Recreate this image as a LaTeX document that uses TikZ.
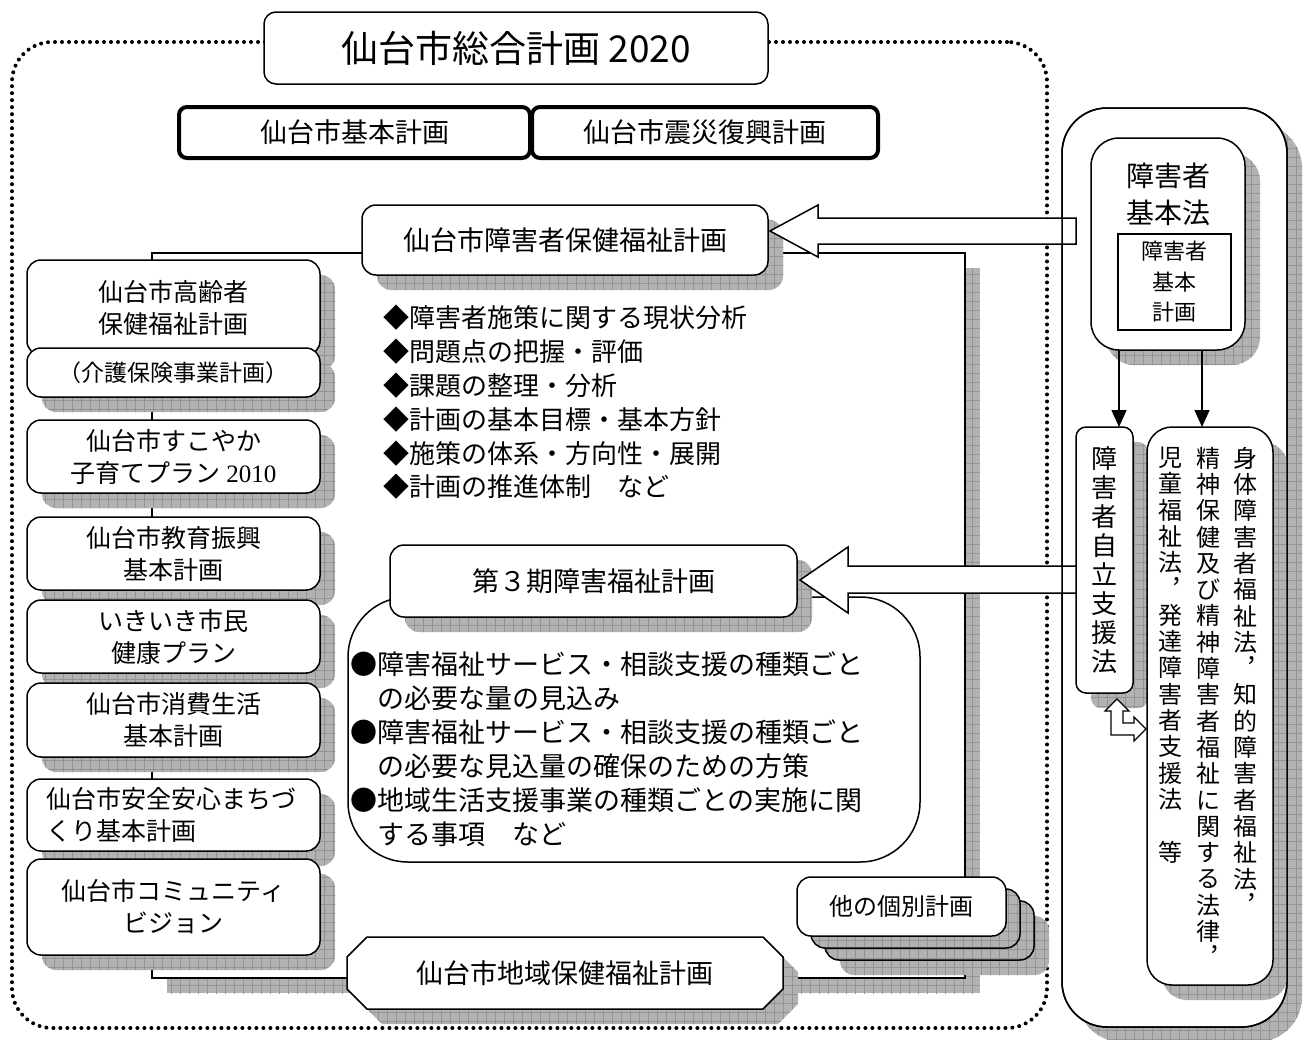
\documentclass[tikz,border=0pt]{standalone}
\usepackage{fontspec}
\setmainfont{Noto Sans CJK JP}
\newfontfamily\numserif{Liberation Serif}
\usetikzlibrary{arrows.meta,patterns.meta,shadows}
\begin{document}
\begin{tikzpicture}[x=1pt,y=-1pt,
  every node/.style={inner sep=0pt,outer sep=0pt},
  shd/.style={general shadow={draw=none,fill=gray!60,shadow xshift=15pt,shadow yshift=-15pt},
              general shadow={draw=none,pattern={Hatch[angle=0,distance=9pt,line width=.8pt]},pattern color=gray!85,shadow xshift=15pt,shadow yshift=-15pt}},
  shfill/.style={preaction={draw=none,fill=gray!60},preaction={draw=none,pattern={Hatch[angle=0,distance=9pt,line width=.8pt]},pattern color=gray!85}},
  box/.style={draw,fill=white,line width=1.5pt,rounded corners=14pt,align=center},
  thick/.style={draw,fill=white,line width=4pt,rounded corners=8pt,align=center},
  t36/.style={font=\fontsize{37}{40}\selectfont},
  t28/.style={font=\fontsize{28}{37}\selectfont},
  t27/.style={font=\fontsize{27}{34}\selectfont},
  t26/.style={font=\fontsize{26}{33.8}\selectfont},
  t25/.style={font=\fontsize{25}{32}\selectfont},
  t24/.style={font=\fontsize{24}{26.3}\selectfont},
  t22/.style={font=\fontsize{22}{30.5}\selectfont},
  arr/.style={line width=1.5pt,-{Triangle[length=17pt,width=15pt]}},
  blk/.style={draw,fill=white,line width=1.5pt,line join=miter},
]
\useasboundingbox (0,0) rectangle (1311,1039);
% outer dotted frame
\node[draw,line width=4pt,dash pattern=on 0pt off 7pt,line cap=round,rounded corners=40pt,
      minimum width=1035,minimum height=986] (frame) at (529.5,535) {};
% title
\node[box,rounded corners=12pt,minimum width=504,minimum height=72,t36] (title) at (516,48) {仙台市総合計画 2020};
\node[thick,minimum width=351,minimum height=51,t27] (kihon) at (354.5,132.5) {仙台市基本計画};
\node[thick,minimum width=346,minimum height=51,t27] (shinsai) at (705,132.5) {仙台市震災復興計画};
% big connecting rectangle
\node[draw,fill=white,line width=1.5pt,shd,minimum width=813,minimum height=725] (hub) at (558.5,615.5) {};
% left column
\node[box,shd,minimum width=293,minimum height=95,t25] (koreisha) at (173.5,307.5) {仙台市高齢者\\保健福祉計画};
\node[box,shd,minimum width=293,minimum height=49,font=\fontsize{23}{28}\selectfont] (kaigo) at (173.5,372.5) {（介護保険事業計画）};
\node[box,shd,minimum width=293,minimum height=73,t25] (sukoyaka) at (173.5,456.5) {仙台市すこやか\\子育てプラン {\numserif 2010}};
\node[box,shd,minimum width=293,minimum height=73,t25] (kyoiku) at (173.5,553.5) {仙台市教育振興\\基本計画};
\node[box,shd,minimum width=293,minimum height=73,t25] (ikiiki) at (173.5,636.5) {いきいき市民\\健康プラン};
\node[box,shd,minimum width=293,minimum height=74,t25] (shohi) at (173.5,720) {仙台市消費生活\\基本計画};
\node[box,shd,minimum width=293,minimum height=72,t25,align=left,text width=255pt] (anzen) at (173.5,815) {仙台市安全安心まちづ\\くり基本計画};
\node[box,shd,minimum width=293,minimum height=96,t25] (community) at (173.5,907) {仙台市コミュニティ\\ビジョン};
% right panel
\node[draw,fill=white,line width=1.5pt,rounded corners=45pt,shd,minimum width=225,minimum height=919] (panel) at (1174.5,567.5) {};
\node[box,shd,rounded corners=28pt,minimum width=154,minimum height=212] (kihonho) at (1168,244) {};
\node[t28,align=center] (khtext) at (1168,194) {障害者\\基本法};
\node[draw,fill=white,line width=1.2pt,minimum width=113,minimum height=96,align=center,t22] (kplan) at (1174.5,282) {障害者\\基本\\計画};
\node[box,shd,rounded corners=10pt,minimum width=57,minimum height=266,font=\fontsize{26}{29}\selectfont] (jiritsu) at (1104.5,560) {障\\害\\者\\自\\立\\支\\援\\法};
\node[box,shd,rounded corners=25pt,minimum width=126,minimum height=558] (laws) at (1210,706) {};
\node[t24,align=center,anchor=north] (col1) at (1245,447) {身\\体\\障\\害\\者\\福\\祉\\法\\︐\\知\\的\\障\\害\\者\\福\\祉\\法\\︐};
\node[t24,align=center,anchor=north] (col2) at (1208,447) {精\\神\\保\\健\\及\\び\\精\\神\\障\\害\\者\\福\\祉\\に\\関\\す\\る\\法\\律\\︐};
\node[t24,align=center,anchor=north] (col3) at (1170,447) {児\\童\\福\\祉\\法\\︐\\発\\達\\障\\害\\者\\支\\援\\法\\　\\等};
\draw[arr] ([xshift=-49pt]kihonho.south) -- ([xshift=-49pt]kihonho.south |- jiritsu.north);
\draw[arr] ([xshift=34pt]kihonho.south) -- ([xshift=34pt]kihonho.south |- laws.north);
% bent double arrow between jiritsu and laws
\draw[blk,line width=1.3pt] (1117,699) -- (1129,711) -- (1123,711) -- (1123,723) -- (1134,723) -- (1134,717)
  -- (1146,729) -- (1134,741) -- (1134,735) -- (1111,735) -- (1111,711) -- (1105,711) -- cycle;
% middle plans
\node[box,shd,minimum width=406,minimum height=70,t27] (hoken) at (565,240) {仙台市障害者保健福祉計画};
\node[t26,align=left,anchor=west] (items) at (383,402.5) {◆障害者施策に関する現状分析\\◆問題点の把握・評価\\◆課題の整理・分析\\◆計画の基本目標・基本方針\\◆施策の体系・方向性・展開\\◆計画の推進体制　など};
\node[draw,fill=white,line width=1.5pt,rounded corners=60pt,minimum width=572,minimum height=265] (sanki) at (634,729.5) {};
\node[t27,align=left,anchor=west] (sankitext) at (350,749) {●障害福祉サービス・相談支援の種類ごと\\\phantom{●}の必要な量の見込み\\●障害福祉サービス・相談支援の種類ごと\\\phantom{●}の必要な見込量の確保のための方策\\●地域生活支援事業の種類ごとの実施に関\\\phantom{●}する事項　など};
\node[box,shd,minimum width=407,minimum height=72,t27] (dai3) at (593.5,581) {第３期障害福祉計画};
% other plans stack
\node[draw,line width=1.5pt,rounded corners=14pt,shd,shfill,minimum width=209,minimum height=59] (other3) at (929.5,930.5) {};
\node[draw,line width=1.5pt,rounded corners=14pt,shfill,minimum width=209,minimum height=59] (other2) at (915.5,918.5) {};
\node[box,minimum width=209,minimum height=59,font=\fontsize{24}{28}\selectfont] (other) at (901.5,906.5) {他の個別計画};
% regional plan (octagon)
\draw[blk,shd] (367,937) -- (763,937) -- (783,957) -- (783,989) -- (763,1009) -- (367,1009) -- (347,989) -- (347,957) -- cycle;
\node[t27] (chiiki) at (565,973) {仙台市地域保健福祉計画};
% block arrows
\draw[blk] (770,231) -- (818,205) -- (818,218) -- (1076,218) -- (1076,244) -- (818,244) -- (818,257) -- cycle;
\draw[blk] (800,580) -- (848,547) -- (848,566) -- (1076,566) -- (1076,593) -- (848,593) -- (848,613) -- cycle;
\draw[line width=1.5pt,rounded corners=45pt] (panel.north west) rectangle (panel.south east);
\end{tikzpicture}
\end{document}
